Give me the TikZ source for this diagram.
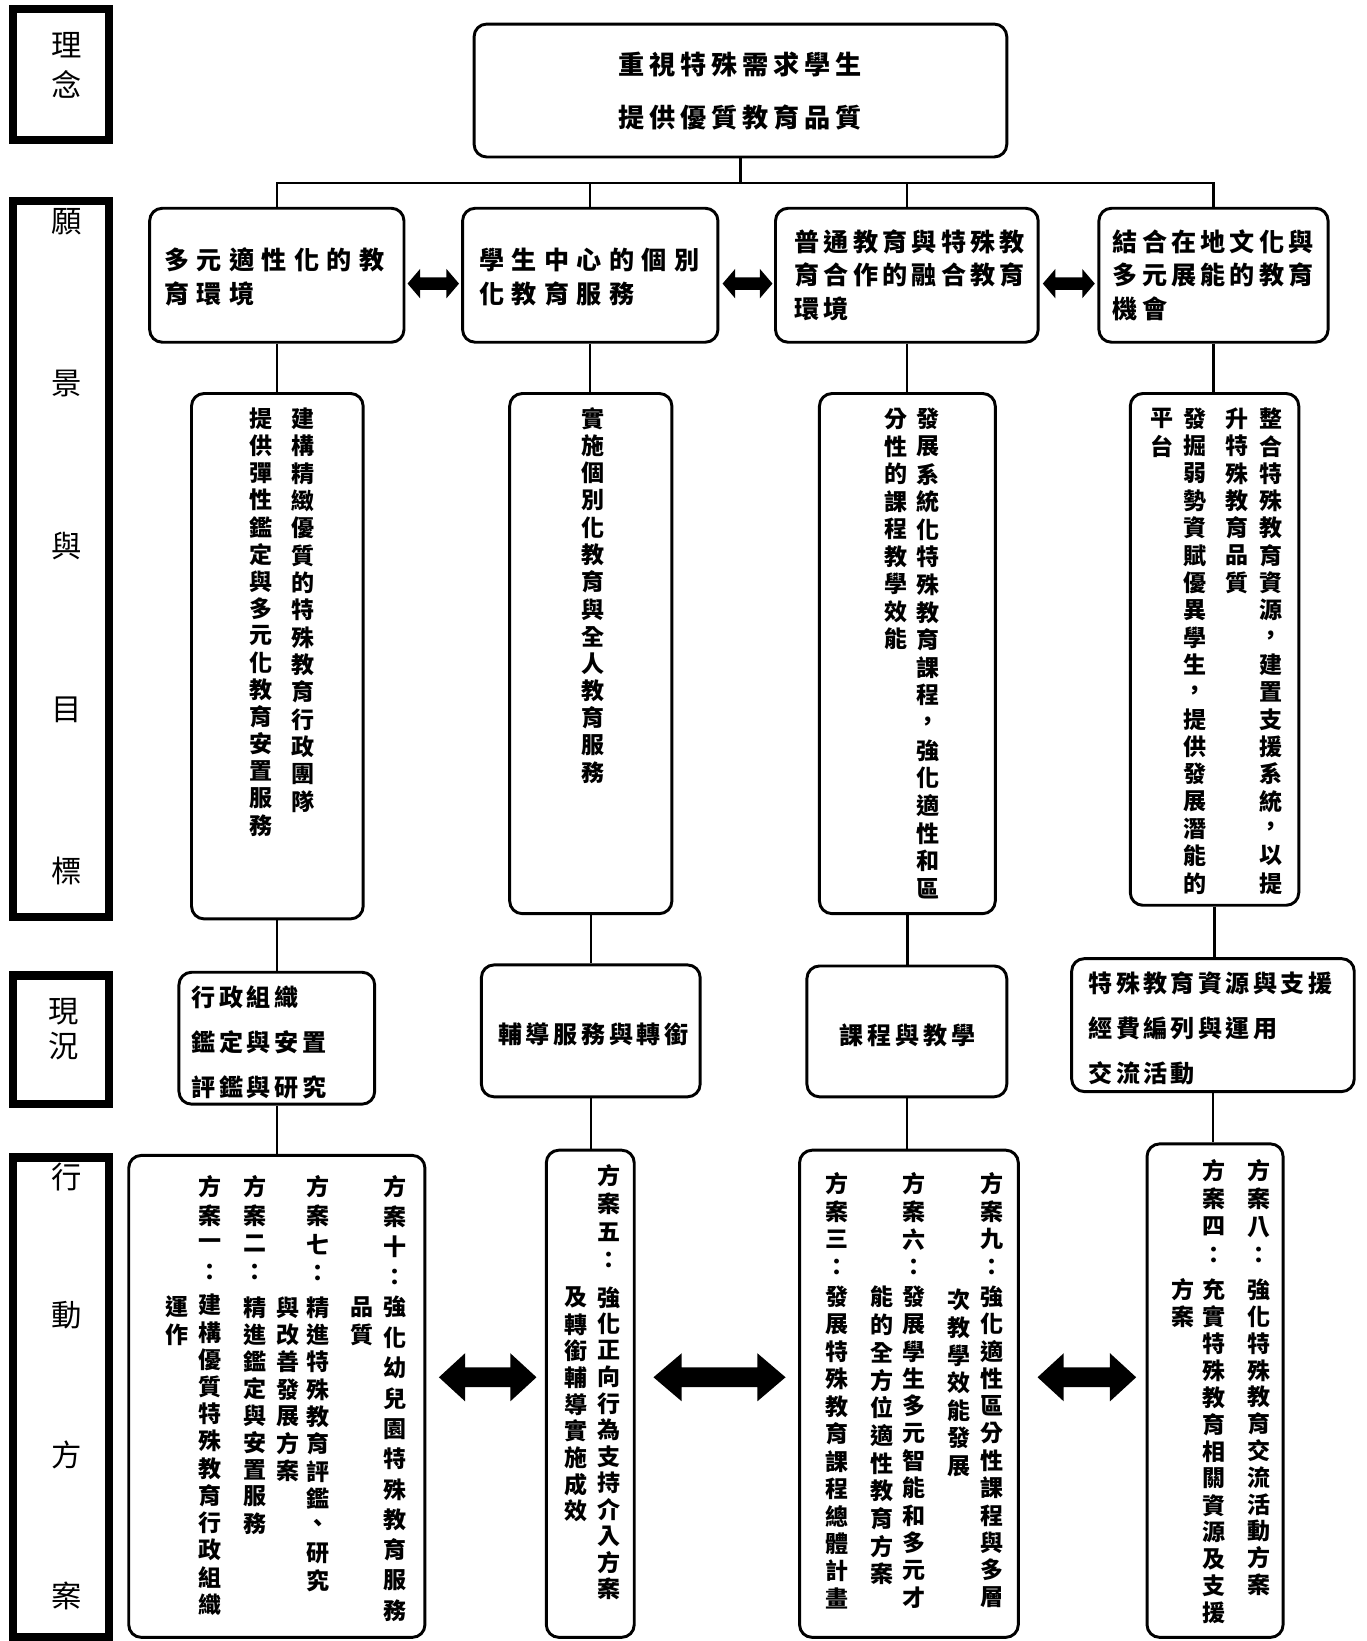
\documentclass[tikz,border=0pt]{standalone}
\usepackage{fontspec}
\newfontfamily\cjk{Noto Sans CJK TC}
\usetikzlibrary{fit,calc}
\makeatletter
\newdimen\cellw \newdimen\cellh
\newcommand\hchars[2]{\cellw=#1\relax\hc@loop#2\@nil}
\def\hc@loop#1{\ifx#1\@nil\else\hbox to\cellw{\hss#1\hss}\expandafter\hc@loop\fi}
\def\vc@loop#1{\ifx#1\@nil\else\hbox to 1em{\hss\vbox to\cellh{\vss\hbox{#1}\vss}\hss}\expandafter\vc@loop\fi}
\newcommand\vchars[2]{\vbox{\offinterlineskip\cellh=#1\relax\vc@loop#2\@nil}}
\newcommand\vplan[5]{\vbox{\offinterlineskip\cellh=#1\relax\vc@loop#2\@nil\kern#3\relax\cellh=#4\relax\vc@loop#5\@nil}}
\makeatother
\newcommand\barrow[8]{%
  \fill let \p1=(#1), \p2=(#2), \p3=(#3) in
  ({\x1+#4},\y3) -- ({\x1+#4+#6},{\y3+#7}) -- ({\x1+#4+#6},{\y3+#8}) -- ({\x2-#5-#6},{\y3+#8}) -- ({\x2-#5-#6},{\y3+#7}) -- ({\x2-#5},\y3) -- ({\x2-#5-#6},{\y3-#7}) -- ({\x2-#5-#6},{\y3-#8}) -- ({\x1+#4+#6},{\y3-#8}) -- ({\x1+#4+#6},{\y3-#7}) -- cycle;}
\tikzset{
  box/.style={draw, line width=2.8pt, rounded corners=12pt, inner sep=0pt},
  lab/.style={draw, line width=8pt, inner sep=0pt},
  conn/.style={line width=2.2pt},
  ltxt/.style={font=\cjk\fontsize{29pt}{29pt}\selectfont, inner sep=0pt},
  ttop/.style={font=\cjk\bfseries\fontsize{25pt}{25pt}\selectfont, inner sep=0pt},
  ttwo/.style={font=\cjk\bfseries\fontsize{24pt}{24pt}\selectfont, inner sep=0pt, anchor=west},
  tfour/.style={font=\cjk\bfseries\fontsize{23pt}{23pt}\selectfont, inner sep=0pt},
  tv/.style={font=\cjk\bfseries\fontsize{22pt}{22pt}\selectfont, inner sep=0pt, anchor=north},
}
\begin{document}
\begin{tikzpicture}[x=1pt,y=-1pt]
\fill[white] (0,0) rectangle (1305.3,1568);
\useasboundingbox (0,0) rectangle (1305.3,1568);

% ---------- left label boxes ----------
\node[lab, fit={(12.6,8.8) (104,134)}] (L1) {};
\node[ltxt] (L1a) at (64,43) {理};
\node[ltxt] (L1b) at (64,81) {念};
\node[lab, fit={(12.6,192) (104,876)}] (L2) {};
\node[ltxt] (L2a) at (64,212) {願};
\node[ltxt] (L2b) at (64,366) {景};
\node[ltxt] (L2c) at (64,522) {與};
\node[ltxt] (L2d) at (64,678) {目};
\node[ltxt] (L2e) at (64,832) {標};
\node[lab, fit={(12.6,932) (104,1055)}] (L3) {};
\node[ltxt] (L3a) at (61,967) {現};
\node[ltxt] (L3b) at (61,1000) {況};
\node[lab, fit={(12.6,1106) (104,1564)}] (L4) {};
\node[ltxt] (L4a) at (64,1125) {行};
\node[ltxt] (L4b) at (64,1257) {動};
\node[ltxt] (L4c) at (64,1390) {方};
\node[ltxt] (L4d) at (64,1525) {案};

% ---------- top ----------
\node[box, fit={(453,23) (962,150)}] (top) {};
\node[ttop] (top1) at (707.5,62) {\hchars{29.6pt}{重視特殊需求學生}};
\node[ttop] (top2) at (707.5,112) {\hchars{29.6pt}{提供優質教育品質}};

% ---------- vision row ----------
\node[box, fit={(143,199) (386,327)}] (v1) {};
\node[ttwo] (v1a) at (153.5,248) {\hchars{31pt}{多元適性化的教}};
\node[ttwo] (v1b) at (153.5,281) {\hchars{31pt}{育環境}};
\node[box, fit={(442,199) (686,327)}] (v2) {};
\node[ttwo] (v2a) at (454.5,248) {\hchars{31pt}{學生中心的個別}};
\node[ttwo] (v2b) at (454.5,281) {\hchars{31pt}{化教育服務}};
\node[box, fit={(741,199) (992,327)}] (v3) {};
\node[ttwo] (v3a) at (757,231) {\hchars{28pt}{普通教育與特殊教}};
\node[ttwo] (v3b) at (757,263) {\hchars{28pt}{育合作的融合教育}};
\node[ttwo] (v3c) at (757,295) {\hchars{28pt}{環境}};
\node[box, fit={(1050,199) (1269,327)}] (v4) {};
\node[ttwo] (v4a) at (1061,231) {\hchars{28pt}{結合在地文化與}};
\node[ttwo] (v4b) at (1061,263) {\hchars{28pt}{多元展能的教育}};
\node[ttwo] (v4c) at (1061,295) {\hchars{28pt}{機會}};

% ---------- goals row ----------
\node[box, fit={(183,376) (347,878)}] (g1) {};
\node[tv] (g1a) at (290,387) {\vchars{26.1pt}{建構精緻優質的特殊教育行政團隊}};
\node[tv] (g1b) at (249,387) {\vchars{25.9pt}{提供彈性鑑定與多元化教育安置服務}};
\node[box, fit={(487,376) (642,873)}] (g2) {};
\node[tv] (g2a) at (567,387) {\vchars{26pt}{實施個別化教育與全人教育服務}};
\node[box, fit={(783,376) (951,873)}] (g3) {};
\node[tv] (g3a) at (887,387) {\vchars{26.4pt}{發展系統化特殊教育課程，強化適性和區}};
\node[tv] (g3b) at (856,387) {\vchars{26.3pt}{分性的課程教學效能}};
\node[box, fit={(1080,376) (1241,865)}] (g4) {};
\node[tv] (g4a) at (1214,387) {\vchars{26.1pt}{整合特殊教育資源，建置支援系統，以提}};
\node[tv] (g4b) at (1182,387) {\vchars{26.1pt}{升特殊教育品質}};
\node[tv] (g4c) at (1142,387) {\vchars{26.1pt}{發掘弱勢資賦優異學生，提供發展潛能的}};
\node[tv] (g4d) at (1110,387) {\vchars{26.1pt}{平台}};

% ---------- status row ----------
\node[box, fit={(171,929) (358,1055)}] (s1) {};
\node[tfour, anchor=west] (s1a) at (181.3,953) {\hchars{26.4pt}{行政組織}};
\node[tfour, anchor=west] (s1b) at (181.3,996) {\hchars{26.4pt}{鑑定與安置}};
\node[tfour, anchor=west] (s1c) at (181.3,1039) {\hchars{26.4pt}{評鑑與研究}};
\node[box, fit={(460,922) (669,1048)}] (s2) {};
\node[tfour] (s2a) at (567,988) {\hchars{26.5pt}{輔導服務與轉銜}};
\node[box, fit={(771,923) (962,1048)}] (s3) {};
\node[tfour] (s3a) at (867,989) {\hchars{26.8pt}{課程與教學}};
\node[box, fit={(1024,916) (1294,1043)}] (s4) {};
\node[tfour, anchor=west] (s4a) at (1038.4,940) {\hchars{26.2pt}{特殊教育資源與支援}};
\node[tfour, anchor=west] (s4b) at (1038.4,983) {\hchars{26.2pt}{經費編列與運用}};
\node[tfour, anchor=west] (s4c) at (1038.4,1026) {\hchars{26.2pt}{交流活動}};

% ---------- action plan row ----------
\node[box, fit={(123,1104) (406,1564.5)}] (p1) {};
\node[tv] (p1a) at (377,1119.65) {\vplan{28.7pt}{方案十：}{0pt}{29pt}{強化幼兒園特殊教育服務}};
\node[tv] (p1b) at (346,1235.75) {\vchars{26.5pt}{品質}};
\node[tv] (p1c) at (304,1120.2) {\vplan{27.6pt}{方案七：}{5.35pt}{26.1pt}{精進特殊教育評鑑、研究}};
\node[tv] (p1d) at (275,1235.95) {\vchars{26.1pt}{與改善發展方案}};
\node[tv] (p1e) at (244,1120.45) {\vplan{27.1pt}{方案二：}{7.25pt}{25.8pt}{精進鑑定與安置服務}};
\node[tv] (p1f) at (201,1120.45) {\vplan{27.1pt}{方案一：}{5pt}{26pt}{建構優質特殊教育行政組織}};
\node[tv] (p1g) at (169,1235.9) {\vchars{26pt}{運作}};

\node[box, fit={(522,1099) (606,1564.5)}] (p2) {};
\node[tv] (p2a) at (582,1110) {\vplan{27pt}{方案五：}{9pt}{25.3pt}{強化正向行為支持介入方案}};
\node[tv] (p2b) at (550,1227) {\vchars{25.5pt}{及轉銜輔導實施成效}};

\node[box, fit={(764,1099) (973,1564.5)}] (p3) {};
\node[tv] (p3a) at (948,1117.75) {\vplan{26.5pt}{方案九：}{2.2pt}{26.1pt}{強化適性區分性課程與多層}};
\node[tv] (p3b) at (916,1228.8) {\vchars{26.4pt}{次教學效能發展}};
\node[tv] (p3c) at (873,1117.75) {\vplan{26.5pt}{方案六：}{2.2pt}{26.1pt}{發展學生多元智能和多元才}};
\node[tv] (p3d) at (843,1225.75) {\vchars{26.5pt}{能的全方位適性教育方案}};
\node[tv] (p3e) at (800,1117.75) {\vplan{26.5pt}{方案三：}{2.2pt}{26.2pt}{發展特殊教育課程總體計畫}};

\node[box, fit={(1096,1093) (1226,1564.5)}] (p4) {};
\node[tv] (p4a) at (1203,1104.5) {\vplan{27pt}{方案八：}{7.1pt}{25.6pt}{強化特殊教育交流活動方案}};
\node[tv] (p4b) at (1160,1104.5) {\vplan{27pt}{方案四：}{7.1pt}{25.7pt}{充實特殊教育相關資源及支援}};
\node[tv] (p4c) at (1130,1219.6) {\vchars{25.8pt}{方案}};

% ---------- connectors ----------
\coordinate (bus) at (0,175);
\draw[conn] (top.south) -- (top.south |- bus);
\draw[conn] (v1.north) -- (v1.north |- bus) -- (v4.north |- bus) -- (v4.north);
\draw[conn] (v2.north) -- (v2.north |- bus);
\draw[conn] (v3.north) -- (v3.north |- bus);
\draw[conn] (v1.south) -- (v1.south |- g1.north);
\draw[conn] (v2.south) -- (v2.south |- g2.north);
\draw[conn] (v3.south) -- (v3.south |- g3.north);
\draw[conn] (v4.south) -- (v4.south |- g4.north);
\draw[conn] (g1.south) -- (g1.south |- s1.north);
\draw[conn] (g2.south) -- (g2.south |- s2.north);
\draw[conn] (g3.south) -- (g3.south |- s3.north);
\draw[conn] (g4.south) -- (g4.south |- s4.north);
\draw[conn] (s1.south) -- (s1.south |- p1.north);
\draw[conn] (s2.south) -- (s2.south |- p2.north);
\draw[conn] (s3.south) -- (s3.south |- p3.north);
\draw[conn] (s4.south) -- (s4.south |- p4.north);

% ---------- double arrows ----------
\coordinate (ay2) at (0,271);
\barrow{v1.east}{v2.west}{ay2}{2pt}{2pt}{12pt}{14pt}{6pt}
\barrow{v2.east}{v3.west}{ay2}{3pt}{1.5pt}{12pt}{14pt}{6pt}
\barrow{v3.east}{v4.west}{ay2}{3pt}{2.5pt}{12pt}{14pt}{6pt}
\coordinate (ay5) at (0,1316);
\barrow{p1.east}{p2.west}{ay5}{12pt}{8pt}{25pt}{23pt}{9.5pt}
\barrow{p2.east}{p3.west}{ay5}{17pt}{12pt}{27pt}{23pt}{9.5pt}
\barrow{p3.east}{p4.west}{ay5}{17pt}{9pt}{25pt}{23pt}{9.5pt}
\end{tikzpicture}
\end{document}
